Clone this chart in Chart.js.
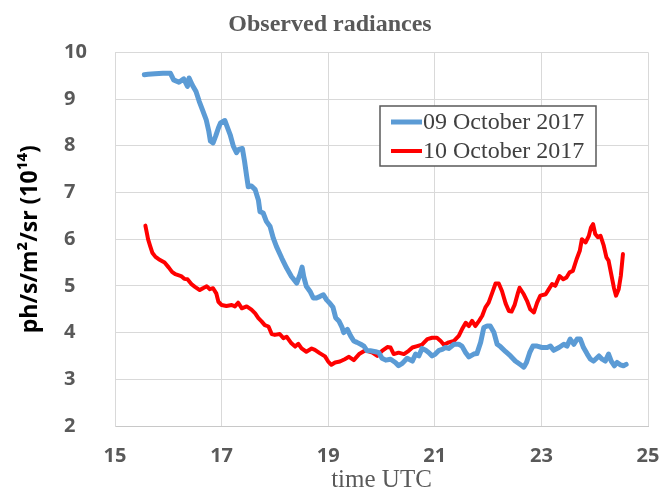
<!DOCTYPE html>
<html><head><meta charset="utf-8">
<script src="https://cdn.jsdelivr.net/npm/chart.js@4.4.1/dist/chart.umd.min.js"></script>
<style>html,body{margin:0;padding:0;background:#fff;}canvas{display:block}</style>
</head><body>
<canvas id="c" width="660" height="493"></canvas>
<script>
const chartTitle = 'Observed radiances';
const xTitle = 'time UTC';
const yTitle = 'ph/s/m\u00B2/sr (10\u00B9\u2074)';
const seriesLabels = ['09 October 2017', '10 October 2017'];

const blueTimes = [15.55,15.62,15.75,15.9,16.04,16.1,16.2,16.29,16.36,16.39,16.45,16.52,16.58,16.65,16.71,16.76,16.79,16.84,16.89,16.94,16.98,17.06,17.1,17.16,17.22,17.28,17.32,17.39,17.43,17.47,17.5,17.56,17.63,17.69,17.72,17.78,17.84,17.91,17.97,18.03,18.13,18.22,18.31,18.41,18.47,18.51,18.54,18.59,18.66,18.72,18.78,18.84,18.91,18.97,19.03,19.09,19.14,19.2,19.26,19.29,19.36,19.42,19.48,19.54,19.61,19.67,19.73,19.79,19.89,19.95,20.01,20.08,20.17,20.26,20.32,20.39,20.48,20.58,20.64,20.7,20.76,20.83,20.89,20.95,21.01,21.08,21.14,21.2,21.26,21.36,21.45,21.51,21.58,21.64,21.73,21.79,21.86,21.92,21.98,22.04,22.11,22.17,22.23,22.33,22.42,22.51,22.61,22.67,22.72,22.78,22.84,22.92,23.01,23.11,23.17,23.23,23.33,23.42,23.48,23.54,23.61,23.67,23.73,23.79,23.86,23.92,23.98,24.08,24.14,24.2,24.26,24.31,24.37,24.42,24.48,24.54,24.59];
const blueValues = [9.52,9.53,9.54,9.55,9.55,9.41,9.36,9.43,9.27,9.45,9.3,9.16,8.95,8.74,8.56,8.31,8.1,8.06,8.21,8.38,8.49,8.54,8.42,8.24,7.99,7.85,7.92,7.94,7.67,7.35,7.12,7.14,7.06,6.84,6.59,6.56,6.38,6.27,6.02,5.84,5.59,5.38,5.2,5.06,5.24,5.4,5.2,4.99,4.88,4.74,4.74,4.77,4.81,4.7,4.63,4.54,4.32,4.25,4.11,4.0,4.07,3.93,3.82,3.79,3.75,3.71,3.61,3.61,3.59,3.57,3.45,3.41,3.43,3.36,3.29,3.34,3.45,3.39,3.54,3.5,3.66,3.62,3.57,3.5,3.54,3.62,3.64,3.68,3.66,3.75,3.75,3.71,3.57,3.48,3.54,3.55,3.79,4.11,4.14,4.14,4.0,3.75,3.7,3.59,3.5,3.39,3.31,3.26,3.36,3.57,3.71,3.71,3.68,3.68,3.71,3.62,3.68,3.75,3.71,3.86,3.75,3.86,3.86,3.68,3.54,3.43,3.39,3.5,3.43,3.39,3.54,3.39,3.29,3.36,3.31,3.29,3.32];

const redTimes = [15.57,15.6,15.62,15.66,15.7,15.76,15.82,15.93,16.01,16.07,16.13,16.24,16.3,16.36,16.44,16.5,16.59,16.65,16.72,16.78,16.84,16.9,16.94,17.0,17.09,17.19,17.25,17.31,17.38,17.47,17.56,17.63,17.69,17.75,17.81,17.88,17.94,18.0,18.09,18.16,18.22,18.31,18.38,18.44,18.5,18.59,18.69,18.75,18.84,18.94,19.0,19.06,19.13,19.22,19.31,19.39,19.48,19.58,19.7,19.83,19.92,20.01,20.11,20.17,20.23,20.32,20.42,20.51,20.58,20.67,20.76,20.86,20.95,21.04,21.11,21.17,21.26,21.36,21.45,21.51,21.58,21.64,21.7,21.76,21.83,21.89,21.95,22.01,22.08,22.14,22.2,22.26,22.33,22.39,22.44,22.5,22.56,22.59,22.67,22.73,22.79,22.86,22.92,22.98,23.08,23.14,23.2,23.26,23.34,23.41,23.47,23.53,23.59,23.66,23.72,23.76,23.83,23.89,23.93,23.97,24.01,24.06,24.11,24.17,24.22,24.26,24.31,24.36,24.4,24.45,24.49,24.53];
const redValues = [6.29,6.12,6.0,5.85,5.71,5.62,5.57,5.5,5.39,5.3,5.25,5.21,5.15,5.14,5.03,4.98,4.91,4.95,4.99,4.93,4.95,4.84,4.66,4.59,4.57,4.59,4.56,4.64,4.52,4.56,4.49,4.41,4.31,4.24,4.16,4.13,3.97,3.95,3.97,3.88,3.91,3.77,3.7,3.76,3.66,3.59,3.66,3.63,3.56,3.49,3.38,3.31,3.36,3.38,3.43,3.48,3.41,3.54,3.62,3.57,3.5,3.61,3.69,3.68,3.54,3.57,3.54,3.61,3.68,3.71,3.74,3.86,3.89,3.89,3.82,3.74,3.79,3.82,3.93,4.07,4.21,4.14,4.25,4.14,4.25,4.36,4.54,4.64,4.86,5.05,5.05,4.89,4.62,4.46,4.45,4.6,4.85,4.96,4.82,4.68,4.5,4.43,4.64,4.79,4.82,4.93,5.04,5.0,5.21,5.14,5.18,5.29,5.32,5.57,5.75,6.0,5.93,6.07,6.25,6.32,6.11,6.04,6.07,5.86,5.61,5.54,5.25,4.96,4.79,4.93,5.21,5.68];

const xMin = 15, xMax = 25, xStep = 2;
const yMin = 2, yMax = 10, yStep = 1;

const pairs = (ts, vs) => ts.map((t, i) => ({x: t, y: vs[i]}));

const boxLegend = {
  id: 'boxLegend',
  afterDatasetsDraw(chart) {
    const ctx = chart.ctx;
    const L = 380, R = 596, T = 106, B = 166;
    ctx.save();
    ctx.fillStyle = '#ffffff';
    ctx.fillRect(L, T, R - L, B - T);
    ctx.strokeStyle = '#595959';
    ctx.lineWidth = 1.5;
    ctx.strokeRect(L, T, R - L, B - T);
    const rows = [122, 151];
    chart.data.datasets.forEach((ds, i) => {
      const y = rows[i];
      ctx.strokeStyle = ds.borderColor;
      ctx.lineWidth = ds.borderWidth;
      ctx.beginPath();
      ctx.moveTo(391, y);
      ctx.lineTo(422, y);
      ctx.stroke();
      ctx.fillStyle = '#404040';
      ctx.font = '24px "Liberation Serif"';
      ctx.textBaseline = 'middle';
      ctx.textAlign = 'left';
      ctx.fillText(ds.label, 423, y + 1);
    });
    ctx.restore();
  }
};

new Chart(document.getElementById('c'), {
  type: 'line',
  data: {
    datasets: [
      {label: seriesLabels[0], data: pairs(blueTimes, blueValues), borderColor: '#5b9bd5', borderWidth: 5, pointRadius: 0, tension: 0, fill: false, borderJoinStyle: 'round', borderCapStyle: 'round'},
      {label: seriesLabels[1], data: pairs(redTimes, redValues), borderColor: '#ff0000', borderWidth: 4, pointRadius: 0, tension: 0, fill: false, borderJoinStyle: 'round', borderCapStyle: 'round'}
    ]
  },
  options: {
    responsive: false,
    animation: false,
    devicePixelRatio: 1,
    layout: {padding: {left: 0, right: 0, top: 0, bottom: 0}},
    plugins: {
      legend: {display: false},
      tooltip: {enabled: false},
      title: {
        display: true, text: chartTitle, color: '#595959',
        font: {family: '"Liberation Serif"', size: 24, weight: 'bold', lineHeight: 1.2},
        padding: {top: 10, bottom: 13.5}
      }
    },
    scales: {
      x: {
        type: 'linear', min: xMin, max: xMax,
        ticks: {stepSize: xStep, color: '#595959', font: {family: '"Open Sans"', size: 20, weight: 'bold'}, padding: 18, maxRotation: 0},
        grid: {color: '#d9d9d9', drawTicks: false},
        border: {color: '#c8c8c8'},
        title: {display: true, text: xTitle, color: '#595959', font: {family: '"Liberation Serif"', size: 25, lineHeight: 1}, padding: {top: 0, bottom: 0}},
        afterFit: s => { s.height = 67; s.paddingLeft = 0; s.paddingRight = 12; }
      },
      y: {
        type: 'linear', min: yMin, max: yMax, weight: 0,
        ticks: {stepSize: yStep, color: '#595959', font: {family: '"Open Sans"', size: 20, weight: 'bold'}, crossAlign: 'far', padding: 8},
        grid: {color: '#d9d9d9', drawTicks: false},
        border: {color: '#d9d9d9'},
        afterFit: s => { s.width = 51; }
      },
      yTitleAxis: {
        type: 'linear', position: 'left', weight: 1,
        ticks: {display: false},
        grid: {display: false, drawTicks: false},
        border: {display: false},
        title: {display: true, text: yTitle, color: '#000000', font: {family: '"Open Sans"', size: 23, weight: 'bold', lineHeight: 1.2}, padding: {top: 17, bottom: 0}},
        afterFit: s => { s.width = 64; }
      }
    }
  },
  plugins: [boxLegend]
});
</script>
</body></html>
